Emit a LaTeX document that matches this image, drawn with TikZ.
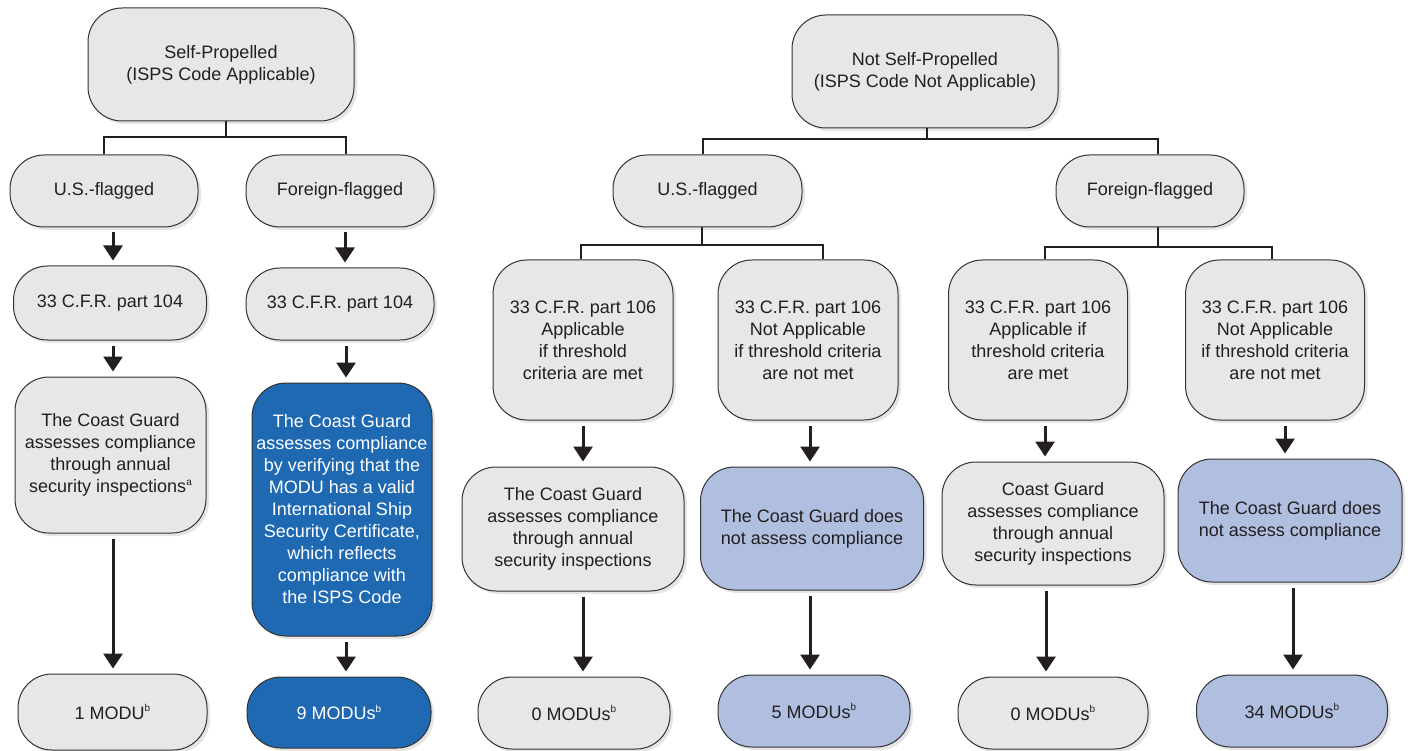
\documentclass[tikz,border=0pt]{standalone}
\usepackage{fontspec}
\setmainfont{Liberation Sans}
\usetikzlibrary{arrows.meta,shadows}
\definecolor{gfill}{HTML}{E6E7E8}
\definecolor{dblue}{HTML}{1F69B3}
\definecolor{lblue}{HTML}{B0BEE0}
\definecolor{txt}{HTML}{231F20}
\definecolor{edge}{HTML}{333333}
\newcommand{\supmark}[1]{\raisebox{0.42em}{\fontsize{10}{10}\selectfont #1}}
\tikzset{
  box/.style={draw=edge, line width=1pt, rounded corners=34pt, align=center,
    inner sep=2pt, text=txt, font=\fontsize{18}{22}\selectfont,
    drop shadow={shadow xshift=3pt, shadow yshift=-3pt, opacity=0.10, fill=black}},
  gbox/.style={box, fill=gfill},
  dbox/.style={box, fill=dblue, text=white},
  lbox/.style={box, fill=lblue},
  bus/.style={draw=txt, line width=2.6pt},
  arr/.style={draw=txt, line width=3pt, -{Triangle[width=19pt,length=15pt]},
    shorten <=5pt, shorten >=5pt}
}
\begin{document}
\begin{tikzpicture}[x=1pt,y=-1pt]
\useasboundingbox (0,0) rectangle (1408,751);

% ---------- Self-propelled branch ----------
\node[gbox, minimum width=266pt, minimum height=113pt] (sp) at (221,64.5) {Self-Propelled\\(ISPS Code Applicable)};
\node[gbox, minimum width=188pt, minimum height=72pt] (us1) at (104,191) {U.S.-flagged};
\node[gbox, minimum width=188pt, minimum height=72pt] (ff1) at (340,191) {Foreign-flagged};
\node[gbox, minimum width=193pt, minimum height=74pt] (cfr1) at (110,303) {33 C.F.R. part 104};
\node[gbox, minimum width=188pt, minimum height=72pt] (cfr2) at (340,304) {33 C.F.R. part 104};
\node[gbox, minimum width=191pt, minimum height=156pt] (as1) at (110.5,455) {The Coast Guard\\assesses compliance\\through annual\\security inspections\supmark{a}};
\node[dbox, minimum width=180pt, minimum height=253pt] (as2) at (342,509.5) {The Coast Guard\\assesses compliance\\by verifying that the\\MODU has a valid\\International Ship\\Security Certificate,\\which reflects\\compliance with\\the ISPS Code};
\node[gbox, minimum width=189pt, minimum height=76pt] (m1) at (112.5,712) {1 MODU\supmark{b}};
\node[dbox, minimum width=184pt, minimum height=71pt] (m9) at (339,712.5) {9 MODUs\supmark{b}};

% ---------- Not self-propelled branch ----------
\node[gbox, minimum width=266pt, minimum height=113pt] (nsp) at (925,71.5) {Not Self-Propelled\\(ISPS Code Not Applicable)};
\node[gbox, minimum width=189pt, minimum height=72pt] (us2) at (707.5,191) {U.S.-flagged};
\node[gbox, minimum width=188pt, minimum height=72pt] (ff2) at (1150,191) {Foreign-flagged};
\node[gbox, minimum width=180pt, minimum height=160pt] (cA) at (583,340) {33 C.F.R. part 106\\Applicable\\if threshold\\criteria are met};
\node[gbox, minimum width=180pt, minimum height=160pt] (cB) at (808,340) {33 C.F.R. part 106\\Not Applicable\\if threshold criteria\\are not met};
\node[gbox, minimum width=179pt, minimum height=160pt] (cC) at (1038,340) {33 C.F.R. part 106\\Applicable if\\threshold criteria\\are met};
\node[gbox, minimum width=179pt, minimum height=160pt] (cD) at (1275,340) {33 C.F.R. part 106\\Not Applicable\\if threshold criteria\\are not met};
\node[gbox, minimum width=222pt, minimum height=124pt] (aA) at (573,529) {The Coast Guard\\assesses compliance\\through annual\\security inspections};
\node[lbox, minimum width=223pt, minimum height=123pt] (nB) at (812,528.5) {The Coast Guard does\\not assess compliance};
\node[gbox, minimum width=222pt, minimum height=123pt] (aC) at (1053,523.5) {Coast Guard\\assesses compliance\\through annual\\security inspections};
\node[lbox, minimum width=224pt, minimum height=123pt] (nD) at (1290,520.5) {The Coast Guard does\\not assess compliance};
\node[gbox, minimum width=192pt, minimum height=72pt] (mA) at (574,713) {0 MODUs\supmark{b}};
\node[lbox, minimum width=192pt, minimum height=72pt] (mB) at (814,711) {5 MODUs\supmark{b}};
\node[gbox, minimum width=190pt, minimum height=72pt] (mC) at (1053,713) {0 MODUs\supmark{b}};
\node[lbox, minimum width=191pt, minimum height=72pt] (mD) at (1292,711) {34 MODUs\supmark{b}};

% ---------- bus connectors ----------
\draw[bus] (sp.south -| 226,0) -- (226,137);
\draw[bus] (us1.north -| 104,0) |- (226,137) -| (ff1.north -| 346,0);
\draw[bus] (nsp.south -| 927,0) -- (927,139);
\draw[bus] (us2.north -| 703,0) |- (927,139) -| (ff2.north -| 1158,0);
\draw[bus] (us2.south -| 702,0) -- (702,245);
\draw[bus] (cA.north -| 581,0) |- (702,245) -| (cB.north -| 823,0);
\draw[bus] (ff2.south -| 1158,0) -- (1158,247);
\draw[bus] (cC.north -| 1045,0) |- (1158,247) -| (cD.north -| 1272,0);

% ---------- arrows ----------
\draw[arr] (us1.south -| 113,0) -- (cfr1.north -| 113,0);
\draw[arr] (cfr1.south -| 113,0) -- (as1.north -| 113,0);
\draw[arr] (as1.south -| 113,0) -- (m1.north -| 113,0);
\draw[arr] (ff1.south -| 345,0) -- (cfr2.north -| 345,0);
\draw[arr] (cfr2.south -| 346,0) -- (as2.north -| 346,0);
\draw[arr] (as2.south -| 346,0) -- (m9.north -| 346,0);
\draw[arr] (cA.south -| 583,0) -- (aA.north -| 583,0);
\draw[arr] (aA.south -| 583,0) -- (mA.north -| 583,0);
\draw[arr] (cB.south -| 810,0) -- (nB.north -| 810,0);
\draw[arr] (nB.south -| 810,0) -- (mB.north -| 810,0);
\draw[arr] (cC.south -| 1045,0) -- (aC.north -| 1045,0);
\draw[arr] (aC.south -| 1046,0) -- (mC.north -| 1046,0);
\draw[arr] (cD.south -| 1285,0) -- (nD.north -| 1285,0);
\draw[arr] (nD.south -| 1293,0) -- (mD.north -| 1293,0);
\end{tikzpicture}
\end{document}
